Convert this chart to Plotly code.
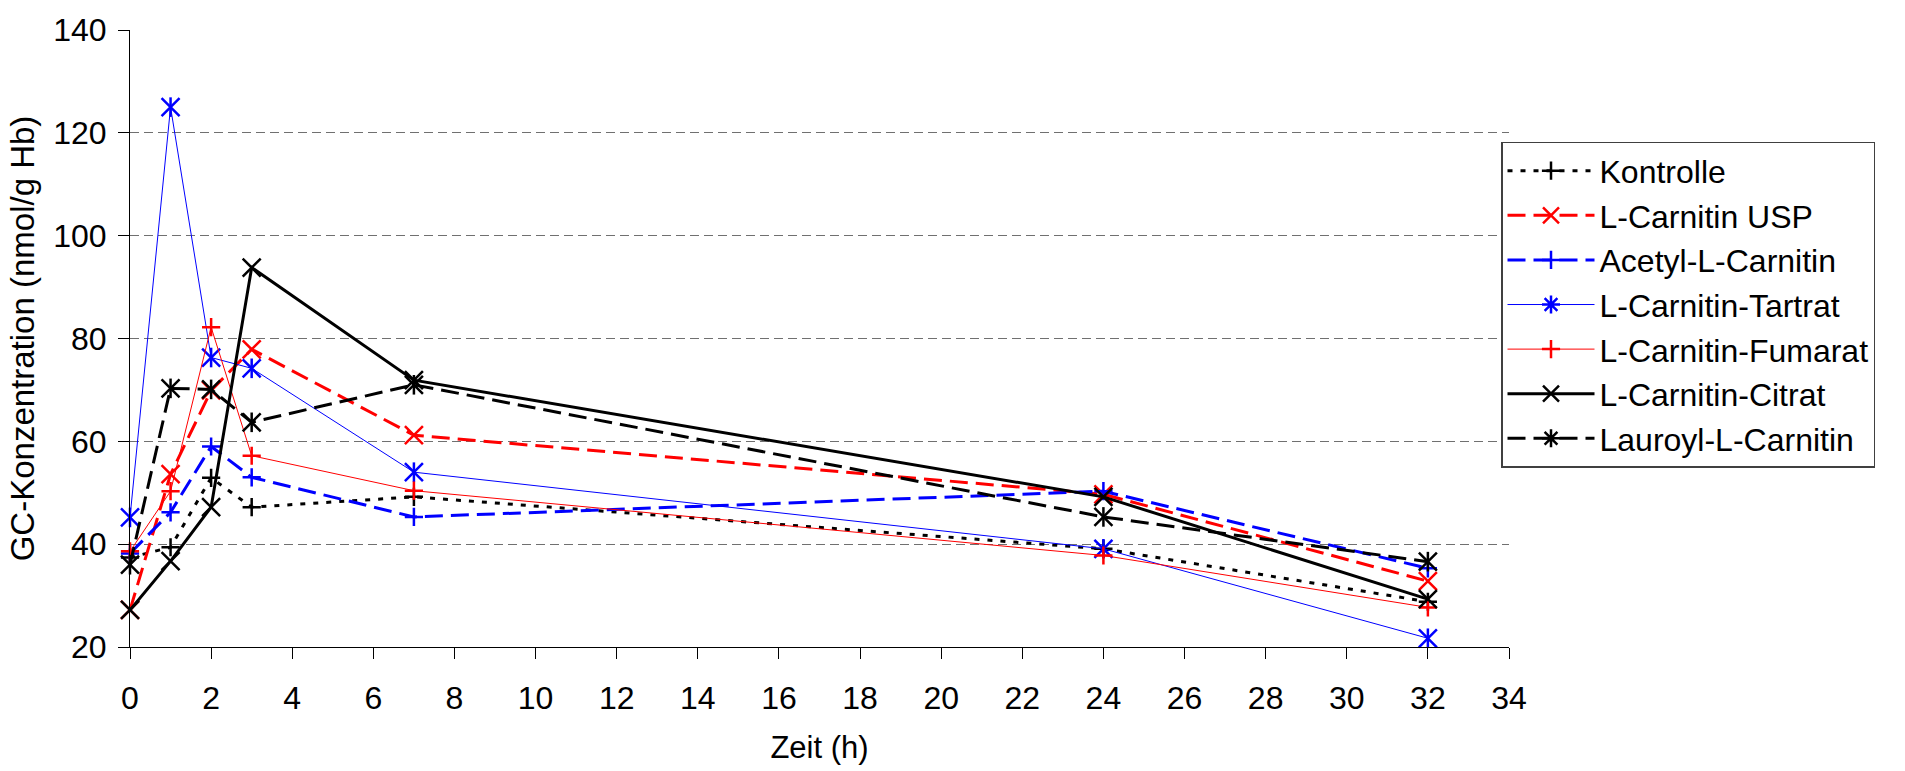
import plotly.graph_objects as go

# Zeitpunkte (h)
zeit = [0, 1, 2, 3, 7, 24, 32]

# GC-Konzentration (nmol/g Hb) je Präparat
kontrolle = [37.4, 39.4, 52.9, 47.2, 49.2, 39.1, 28.8]
carnitin_usp = [27.2, 53.6, 69.9, 77.9, 61.2, 49.7, 32.8]
acetyl = [38.2, 46.2, 59.0, 53.0, 45.3, 50.3, 35.3]
tartrat = [45.2, 125.0, 76.3, 74.2, 54.0, 39.1, 21.7]
fumarat = [38.6, 50.3, 82.2, 57.2, 50.4, 37.8, 27.7]
citrat = [27.2, 36.7, 47.2, 93.8, 71.9, 49.2, 29.3]
lauroyl = [36.0, 70.3, 70.1, 63.7, 71.0, 45.3, 36.6]

x_ticks = list(range(0, 35, 2))
y_ticks = list(range(20, 141, 20))

FONT = "Liberation Sans, Arial, sans-serif"
RED, BLUE, BLACK = "#FF0000", "#0000FF", "#000000"
DASH = "18px,8px"
DOT = "5px,8px"

# name, values, colour, line width, dash, symbol, symbol size, star
series = [
    ("Kontrolle", kontrolle, BLACK, 3, DOT, "cross-thin-open", 13, False),
    ("L-Carnitin USP", carnitin_usp, RED, 3, DASH, "x-thin-open", 18, False),
    ("Acetyl-L-Carnitin", acetyl, BLUE, 3, DASH, "cross-thin-open", 13, False),
    ("L-Carnitin-Tartrat", tartrat, BLUE, 1, "solid", "x-thin-open", 18, True),
    ("L-Carnitin-Fumarat", fumarat, RED, 1, "solid", "cross-thin-open", 13, False),
    ("L-Carnitin-Citrat", citrat, BLACK, 3, "solid", "x-thin-open", 18, False),
    ("Lauroyl-L-Carnitin", lauroyl, BLACK, 3, DASH, "x-thin-open", 18, True),
]

fig = go.Figure()
for i, (name, vals, col, lw, dash, sym, size, star) in enumerate(series):
    grp = f"g{i}"
    fig.add_trace(go.Scatter(
        x=zeit, y=vals, name=name, mode="lines+markers",
        line=dict(color=col, width=lw, dash=dash),
        marker=dict(symbol=sym, size=size, color=col, line=dict(color=col, width=2.5)),
        cliponaxis=False, legendgroup=grp, showlegend=not star,
    ))
    if star:
        # vertical stroke completing the six-armed star marker
        fig.add_trace(go.Scatter(
            x=zeit, y=vals, mode="markers", hoverinfo="skip",
            marker=dict(symbol="line-ns-open", size=14, color=col,
                        line=dict(color=col, width=2.5)),
            cliponaxis=False, legendgroup=grp, showlegend=False,
        ))
        # legend entry for the star series
        fig.add_trace(go.Scatter(
            x=[None], y=[None], name=name, mode="lines+markers",
            line=dict(color=col, width=lw, dash=dash),
            marker=dict(symbol="asterisk-open", size=15, color=col,
                        line=dict(color=col, width=2.5)),
            legendgroup=grp, showlegend=True,
        ))

# keep legend order equal to series order
order = {s[0]: k for k, s in enumerate(series)}
for tr in fig.data:
    if tr.showlegend is not False and tr.name in order:
        tr.legendrank = order[tr.name]

fig.update_layout(
    width=1905, height=771,
    margin=dict(l=130, r=396, t=24, b=124),
    paper_bgcolor="white", plot_bgcolor="white",
    font=dict(family=FONT, color="black", size=32),
    showlegend=True,
    legend=dict(
        x=0.9942, y=0.8186, xanchor="left", yanchor="top",
        bgcolor="white", bordercolor="#404040", borderwidth=1.5,
        font=dict(family=FONT, size=32, color="black"),
        itemwidth=87, tracegroupgap=8, traceorder="normal",
    ),
    xaxis=dict(
        range=[0, 34], tickmode="array", tickvals=x_ticks,
        showline=True, linecolor="black", linewidth=1,
        ticks="outside", ticklen=11, tickcolor="black", tickwidth=1,
        ticklabelstandoff=12,
        showgrid=False, zeroline=False,
        tickfont=dict(family=FONT, size=32),
        title=dict(text="Zeit (h)", font=dict(family=FONT, size=31), standoff=20),
    ),
    yaxis=dict(
        range=[20, 140], tickmode="array", tickvals=y_ticks,
        showline=True, linecolor="black", linewidth=1,
        ticks="outside", ticklen=11, tickcolor="black", tickwidth=1,
        ticklabelstandoff=5,
        showgrid=True, gridcolor="#707070", gridwidth=1, griddash="9px,5px",
        zeroline=False,
        tickfont=dict(family=FONT, size=32),
        title=dict(text="GC-Konzentration (nmol/g Hb)", font=dict(family=FONT, size=33), standoff=8),
    ),
)

fig.write_html("out.html")
